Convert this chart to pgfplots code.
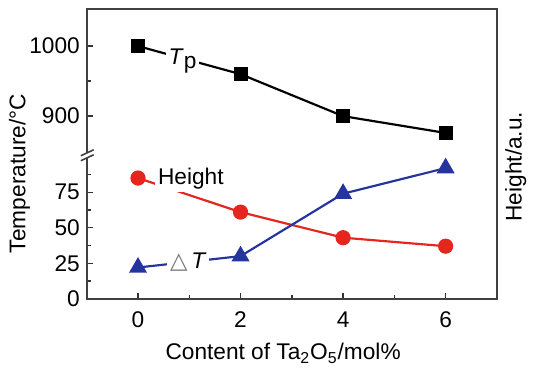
\documentclass[border=0pt]{standalone}
\usepackage{fontspec}
\setmainfont{Liberation Sans}
\newfontfamily\djv{DejaVu Sans}
\usepackage{pgfplots}
\pgfplotsset{compat=1.18}
\usepackage{pgfplotstable}
\definecolor{hred}{RGB}{228,38,30}
\definecolor{dblue}{RGB}{38,52,160}

% temperatures (deg C); drawn on the broken axis via a linear map
\pgfplotstableread{
x T
0 1000
2 960
4 900
6 876
}\tptable
\pgfplotstableread{
x H
0 85
2 61
4 43
6 37
}\heighttable
\pgfplotstableread{
x dT
0 22
2 30
4 74
6 92
}\dttable

\newcommand\fs{\fontsize{11.5}{13}\selectfont}

\begin{document}
\begin{tikzpicture}
\begin{axis}[
  scale only axis, width=208pt, height=146.75pt,
  xmin=-1, xmax=7, ymin=0, ymax=203.8,
  xtick={0,2,4,6}, minor xtick={1,3,5},
  ytick={0,25,50,75,128.6,177.9}, yticklabels={0,25,50,75,900,1000},
  minor ytick={12.5,37.5,62.5,87.5,153.25},
  xtick pos=bottom, ytick pos=left,
  tick style={black!80, line width=0.7pt},
  major tick length=3pt, minor tick length=2pt,
  axis line style={black!75, line width=0.9pt},
  tick label style={font=\fs},
  xticklabel style={yshift=-3pt},
  /pgf/number format/assume math mode=true,
  clip=false,
]
\addplot[black, line width=1.1pt, mark=square*, mark size=3pt]
  table[x=x, y expr={100+(\thisrow{T}-842)*0.4931}] {\tptable};
\addplot[hred, line width=1.1pt, mark=*, mark size=3.3pt]
  table[x=x, y=H] {\heighttable};
\addplot[dblue, line width=1.1pt, mark=triangle*, mark size=4.2pt]
  table[x=x, y=dT] {\dttable};

% in-plot labels
\node[fill=white, inner sep=1.5pt, font=\fs] at (axis cs:0.87,167.4) {\textit{T}\raisebox{-0.35ex}{p}};
\node[fill=white, inner sep=1.5pt, font=\fs] at (axis cs:1.03,84.7) {Height};
\node[fill=white, inner sep=1.5pt, font=\fs] at (axis cs:0.98,25.5) {{\djv\color{black!55}△}\,\textit{T}};

% axis break marks
\fill[white] (axis cs:-1.115,97.2) -- (axis cs:-0.865,101.4) -- (axis cs:-0.865,104.9) -- (axis cs:-1.115,100.7) -- cycle;
\draw[black!75, line width=0.8pt] (axis cs:-1.115,97.2) -- (axis cs:-0.865,101.4);
\draw[black!75, line width=0.8pt] (axis cs:-1.115,100.7) -- (axis cs:-0.865,104.9);

% axis titles
\node[rotate=90, font=\fs] at (axis cs:-2.31,88.2) {Temperature/\textdegree C};
\node[rotate=90, font=\fs] at (axis cs:7.37,93) {Height/a.u.};
\node[font=\fs] at (axis cs:2.83,-38.5) {Content of Ta\textsubscript{2}O\textsubscript{5}/mol\%};

% picture extent
\path (axis cs:-2.692,-48.6) rectangle (axis cs:7.558,210.4);
\end{axis}
\end{tikzpicture}
\end{document}
